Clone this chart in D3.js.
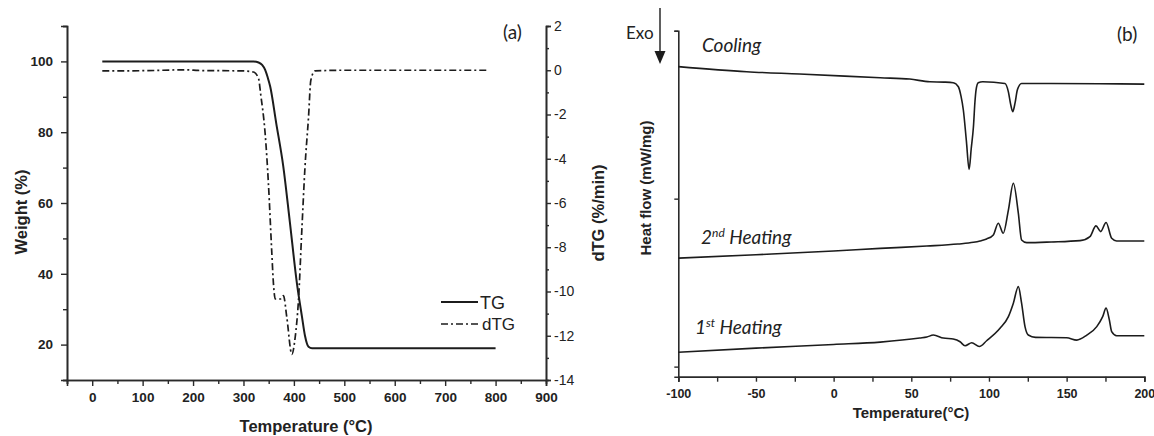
<!DOCTYPE html>
<html>
<head>
<meta charset="utf-8">
<script src="https://cdn.jsdelivr.net/npm/d3@7"></script>
<style>
  html, body { margin: 0; padding: 0; background: #fff; }
  svg { display: block; }
</style>
</head>
<body>
<svg id="chart" width="1154" height="436"></svg>
<script>
// ---- TGA data (panel a) ----
const tgTemp   = [20, 200, 320, 330, 337, 343, 348, 353, 365, 379, 392, 406, 416, 422, 429, 436, 800];
const tgWeight = [100, 100, 100, 99.7, 99, 97.6, 95.5, 92.9, 82.5, 70.3, 54.6, 37.3, 27.9, 22.5, 19.4, 19, 19];

const dtgTemp  = [20, 100, 190, 210, 300, 320, 330, 334, 343, 349.5, 356, 359.5, 363, 372.7, 379.3, 386, 396, 402.5, 409, 416, 422, 429, 433.6, 442, 500, 600, 700, 786];
const dtgValue = [-0.03, -0.02, 0.02, -0.01, -0.03, -0.08, -0.38, -1.06, -2.87, -5.13, -8.16, -9.66, -10.34, -10.34, -10.19, -11.18, -12.84, -12.08, -10.42, -7.1, -4.38, -2.12, -0.45, -0.03, 0, 0, 0, 0];

const tgaXTicks = [0, 100, 200, 300, 400, 500, 600, 700, 800, 900];
const weightTicks = [20, 40, 60, 80, 100];
const dtgTicks = [-14, -12, -10, -8, -6, -4, -2, 0, 2];

// ---- DSC data (panel b), heat flow in arbitrary offset units ----
const coolTemp  = [-100, -56, -22, 30, 49, 62, 71, 77, 80.3, 82, 83.5, 85.5, 87.2, 88.6, 90, 91, 91.7, 93.1, 96, 110.3, 112.5, 114, 115.3, 116.8, 118.3, 121, 130, 171, 200];
const coolFlow  = [8.93, 8.78, 8.71, 8.60, 8.56, 8.48, 8.47, 8.45, 8.33, 8.05, 7.64, 6.7, 5.87, 6.5, 7.14, 7.9, 8.24, 8.45, 8.48, 8.43, 8.18, 7.8, 7.59, 7.85, 8.24, 8.43, 8.43, 8.42, 8.41];

const heat2Temp = [-100, -50, 0, 30, 60, 80, 90, 94.2, 98.5, 102.8, 106, 109.2, 112.5, 115.7, 118.9, 121, 124.3, 140, 158.6, 165, 168.9, 171.9, 175.4, 179, 182.2, 200];
const heat2Flow = [3.23, 3.33, 3.44, 3.52, 3.59, 3.65, 3.7, 3.74, 3.80, 3.92, 4.27, 3.97, 4.66, 5.46, 4.57, 3.77, 3.69, 3.71, 3.75, 3.87, 4.19, 4.02, 4.29, 3.82, 3.74, 3.74];

const heat1Temp = [-100, -50, 0, 30, 55.5, 60, 64.2, 70.6, 77, 81.4, 84.6, 88.9, 93.8, 98.5, 107.1, 112.5, 115.7, 118.9, 121, 123.2, 125.3, 130, 150, 156.5, 163, 169.4, 173.2, 175.4, 177.5, 179, 182.2, 200];
const heat1Flow = [0.43, 0.55, 0.66, 0.73, 0.85, 0.88, 0.94, 0.85, 0.82, 0.74, 0.62, 0.71, 0.60, 0.77, 1.14, 1.49, 1.89, 2.38, 1.89, 1.19, 0.94, 0.87, 0.86, 0.79, 0.94, 1.19, 1.49, 1.74, 1.39, 1.04, 0.92, 0.92];

const dscXTicks = [-100, -50, 0, 50, 100, 150, 200];
const dscYTicks = [0, 5, 10];

const svg = d3.select("#chart");
const ink = "#1c1c1c";
const axisInk = "#2a2a2a";
const tickFont = "'Liberation Sans', Arial, sans-serif";
const noteFont = "Lato, 'Open Sans', sans-serif";
// plain hyphen-minus for negative tick labels
const hyphenInt = d => (d < 0 ? "-" : "") + Math.abs(d);

function styleAxis(g, size, weight) {
  g.select(".domain").attr("stroke", axisInk).attr("stroke-width", 1.6);
  g.selectAll(".tick line").attr("stroke", axisInk).attr("stroke-width", 1.4);
  g.selectAll(".tick text")
    .attr("fill", "#222")
    .style("font-family", tickFont)
    .style("font-size", size + "px")
    .style("font-weight", weight);
}

// ================= Panel (a): TG / dTG =================
const ax = d3.scaleLinear().domain([-50, 900]).range([67, 546]);
const ayL = d3.scaleLinear().domain([10, 110]).range([380, 26]);
const ayR = d3.scaleLinear().domain([-14, 2]).range([380, 26]);

// minor ticks first
svg.append("g").attr("transform", "translate(0,380)")
  .call(d3.axisBottom(ax).tickValues(d3.range(-50, 901, 100)).tickSize(4).tickFormat(""))
  .call(g => styleAxis(g, 12, "bold"));
svg.append("g").attr("transform", "translate(67,0)")
  .call(d3.axisLeft(ayL).tickValues(d3.range(10, 111, 20)).tickSize(4).tickFormat(""))
  .call(g => styleAxis(g, 12, "bold"));
svg.append("g").attr("transform", "translate(546,0)")
  .call(d3.axisRight(ayR).tickValues(d3.range(-13, 2, 2)).tickSize(3).tickFormat(""))
  .call(g => styleAxis(g, 12, "normal"));

// major ticks with labels
svg.append("g").attr("transform", "translate(0,380)")
  .call(d3.axisBottom(ax).tickValues(tgaXTicks).tickSize(6).tickPadding(6).tickFormat(hyphenInt))
  .call(g => styleAxis(g, 13.5, "bold"));
svg.append("g").attr("transform", "translate(67,0)")
  .call(d3.axisLeft(ayL).tickValues(weightTicks).tickSize(6).tickPadding(8).tickFormat(hyphenInt))
  .call(g => styleAxis(g, 13.5, "bold"));
svg.append("g").attr("transform", "translate(546,0)")
  .call(d3.axisRight(ayR).tickValues(dtgTicks).tickSize(5).tickPadding(3).tickFormat(hyphenInt))
  .call(g => styleAxis(g, 14, "normal"));

const tgLine = d3.line().x(d => ax(d[0])).y(d => ayL(d[1])).curve(d3.curveMonotoneX);
const dtgLine = d3.line().x(d => ax(d[0])).y(d => ayR(d[1])).curve(d3.curveMonotoneX);

svg.append("path")
  .datum(d3.zip(dtgTemp, dtgValue))
  .attr("d", dtgLine).attr("fill", "none").attr("stroke", ink)
  .attr("stroke-width", 1.7).attr("stroke-dasharray", "7,3,2,3");
svg.append("path")
  .datum(d3.zip(tgTemp, tgWeight))
  .attr("d", tgLine).attr("fill", "none").attr("stroke", ink).attr("stroke-width", 2);

// legend
const legend = svg.append("g").attr("transform", "translate(441,0)");
legend.append("line").attr("x1", 0).attr("x2", 37).attr("y1", 302).attr("y2", 302)
  .attr("stroke", ink).attr("stroke-width", 2);
legend.append("text").attr("x", 39).attr("y", 308.5).text("TG")
  .style("font-family", tickFont).style("font-size", "18px").attr("fill", "#222");
legend.append("line").attr("x1", 0).attr("x2", 39).attr("y1", 324).attr("y2", 324)
  .attr("stroke", ink).attr("stroke-width", 1.7).attr("stroke-dasharray", "7,3,2,3");
legend.append("text").attr("x", 41).attr("y", 330).text("dTG")
  .style("font-family", tickFont).style("font-size", "17px").attr("fill", "#222");

// axis titles (a)
svg.append("text").attr("x", 306).attr("y", 432).attr("text-anchor", "middle")
  .text("Temperature (°C)")
  .style("font-family", tickFont).style("font-size", "16.5px").style("font-weight", "bold").attr("fill", "#222");
svg.append("text").attr("transform", "translate(27,212) rotate(-90)").attr("text-anchor", "middle")
  .text("Weight (%)")
  .style("font-family", tickFont).style("font-size", "16.5px").style("font-weight", "bold").attr("fill", "#222");
svg.append("text").attr("transform", "translate(604,213) rotate(-90)").attr("text-anchor", "middle")
  .text("dTG (%/min)")
  .style("font-family", tickFont).style("font-size", "16.5px").style("font-weight", "bold").attr("fill", "#222");
svg.append("text").attr("x", 503).attr("y", 39).text("(a)")
  .style("font-family", noteFont).style("font-size", "19px").attr("fill", "#222");

// ================= Panel (b): DSC =================
const bx = d3.scaleLinear().domain([-100, 200]).range([678.3, 1144.3]);
const by = d3.scaleLinear().domain([-0.3, 10]).range([376.7, 30.7]);

svg.append("g").attr("transform", "translate(0,376.7)")
  .call(d3.axisBottom(bx).tickValues(d3.range(-75, 200, 50)).tickSize(5).tickFormat(""))
  .call(g => styleAxis(g, 12, "bold"));
svg.append("g").attr("transform", "translate(0,376.7)")
  .call(d3.axisBottom(bx).tickValues(dscXTicks).tickSize(5).tickPadding(7).tickFormat(hyphenInt))
  .call(g => styleAxis(g, 12.5, "bold"));
svg.append("g").attr("transform", "translate(678.3,0)")
  .call(d3.axisLeft(by).tickValues(dscYTicks).tickSize(4).tickFormat(""))
  .call(g => styleAxis(g, 12, "bold"));

const dscLine = d3.line().x(d => bx(d[0])).y(d => by(d[1])).curve(d3.curveMonotoneX);
[[coolTemp, coolFlow], [heat2Temp, heat2Flow], [heat1Temp, heat1Flow]].forEach(([t, f]) => {
  svg.append("path").datum(d3.zip(t, f)).attr("d", dscLine)
    .attr("fill", "none").attr("stroke", ink).attr("stroke-width", 1.6);
});

// curve labels
const italic = (x, y, parts) => {
  const t = svg.append("text").attr("x", x).attr("y", y)
    .style("font-family", noteFont).style("font-size", "19px").style("font-style", "italic").attr("fill", "#222");
  parts.forEach(p => {
    const s = t.append("tspan").text(p.text);
    if (p.sup) s.attr("baseline-shift", "super").style("font-size", "12px");
  });
};
italic(702, 52, [{ text: "Cooling" }]);
italic(701, 244, [{ text: "2" }, { text: "nd", sup: true }, { text: " Heating" }]);
italic(695, 334, [{ text: "1" }, { text: "st", sup: true }, { text: " Heating" }]);

// exotherm direction marker
svg.append("text").attr("x", 626).attr("y", 39).text("Exo")
  .style("font-family", noteFont).style("font-size", "17px").attr("fill", "#222");
svg.append("line").attr("x1", 660).attr("x2", 660).attr("y1", 8).attr("y2", 54)
  .attr("stroke", ink).attr("stroke-width", 1.4);
svg.append("path").attr("d", "M654.5,51 L665.5,51 L660,64 Z").attr("fill", ink);

svg.append("text").attr("x", 1117).attr("y", 41).text("(b)")
  .style("font-family", noteFont).style("font-size", "19px").attr("fill", "#222");

svg.append("text").attr("x", 911).attr("y", 418).attr("text-anchor", "middle")
  .text("Temperature(°C)")
  .style("font-family", tickFont).style("font-size", "15px").style("font-weight", "bold").attr("fill", "#222");
svg.append("text").attr("transform", "translate(651,188) rotate(-90)").attr("text-anchor", "middle")
  .text("Heat flow (mW/mg)")
  .style("font-family", tickFont).style("font-size", "15px").style("font-weight", "bold").attr("fill", "#222");
</script>
</body>
</html>
